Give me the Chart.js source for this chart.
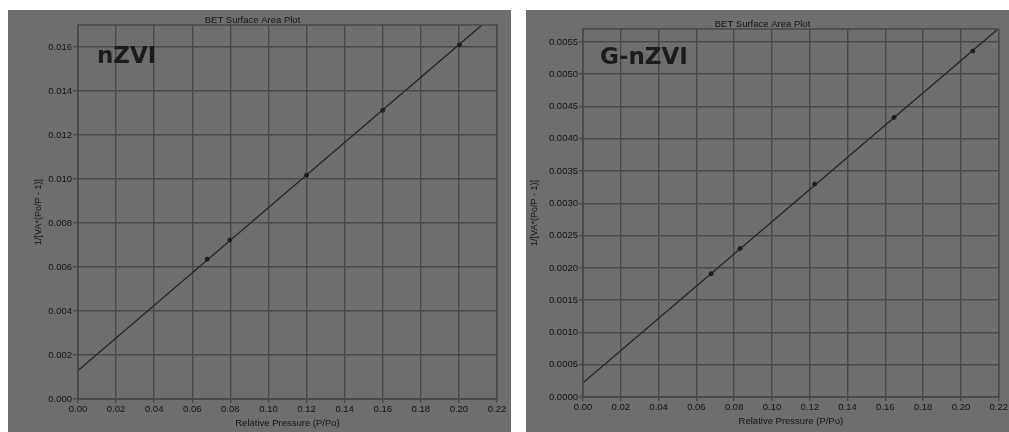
<!DOCTYPE html>
<html>
<head>
<meta charset="utf-8">
<script src="https://cdn.jsdelivr.net/npm/chart.js@4.4.1/dist/chart.umd.min.js"></script>
<style>
  html, body { margin: 0; padding: 0; background: #ffffff; }
  body { width: 1009px; height: 432px; overflow: hidden; position: relative; }
  .panel { position: absolute; background: #6e6e6e; }
  .panel canvas { display: block; filter: blur(0.6px); }
  #panelA { left: 8px; top: 10px; width: 503px; height: 422px; }
  #panelB { left: 526px; top: 10px; width: 483px; height: 422px; }
</style>
</head>
<body>
<div class="panel" id="panelA"><canvas id="chartA" width="503" height="422"></canvas></div>
<div class="panel" id="panelB"><canvas id="chartB" width="483" height="422"></canvas></div>
<script>
// Relative pressure ticks shared by both plots
const xTicks = [0.00, 0.02, 0.04, 0.06, 0.08, 0.10, 0.12, 0.14, 0.16, 0.18, 0.20, 0.22];

// nZVI: measured BET points and fitted line
const pressure_nZVI = [0.0679, 0.0797, 0.1200, 0.1600, 0.2003];
const bet_nZVI      = [0.00636, 0.00723, 0.01017, 0.01312, 0.01610];
const fitX_nZVI     = [0.0000, 0.2121];
const fitY_nZVI     = [0.00129, 0.01700];
const yTicks_nZVI   = [0.000, 0.002, 0.004, 0.006, 0.008, 0.010, 0.012, 0.014, 0.016];

// G-nZVI: measured BET points and fitted line
const pressure_GnZVI = [0.0678, 0.0831, 0.1226, 0.1646, 0.2063];
const bet_GnZVI      = [0.00191, 0.00230, 0.00330, 0.00433, 0.00536];
const fitX_GnZVI     = [0.0000, 0.2196];
const fitY_GnZVI     = [0.00022, 0.00570];
const yTicks_GnZVI   = [0.0000, 0.0005, 0.0010, 0.0015, 0.0020, 0.0025, 0.0030,
                        0.0035, 0.0040, 0.0045, 0.0050, 0.0055];

const FONT = '"Liberation Sans", Arial, sans-serif';
const TEXT = '#141414';
const GRID = '#4a4a4a';

// Frame around the plotting area plus the sample label
const framePlugin = {
  id: 'frame',
  afterDraw(chart, args, opts) {
    const { ctx, chartArea: a } = chart;
    ctx.save();
    ctx.strokeStyle = GRID;
    ctx.lineWidth = 1.5;
    ctx.strokeRect(a.left, a.top, a.right - a.left, a.bottom - a.top);
    ctx.fillStyle = '#1c1c20';
    ctx.font = 'bold 23px "DejaVu Sans", sans-serif';
    ctx.textBaseline = 'middle';
    ctx.textAlign = 'left';
    ctx.fillText(opts.label, a.left + opts.dx, a.top + opts.dy);
    ctx.restore();
  }
};

function makeChart(id, s) {
  const points = s.px.map((x, i) => ({ x, y: s.py[i] }));
  const fit = s.fx.map((x, i) => ({ x, y: s.fy[i] }));
  return new Chart(document.getElementById(id), {
    type: 'scatter',
    data: {
      datasets: [
        { data: fit, showLine: true, borderColor: '#242424', borderWidth: 1.3,
          pointRadius: 0, order: 2 },
        { data: points, showLine: false, backgroundColor: '#1e1e1e',
          borderColor: '#1e1e1e', pointRadius: 2, order: 1 }
      ]
    },
    options: {
      responsive: false,
      animation: false,
      devicePixelRatio: 1,
      layout: { padding: { left: 0, right: s.padRight, top: 0, bottom: 0 } },
      plugins: {
        legend: { display: false },
        tooltip: { enabled: false },
        title: {
          display: true,
          text: 'BET Surface Area Plot',
          color: TEXT,
          font: { family: FONT, size: 9.5, weight: 'normal', lineHeight: 1 },
          padding: { top: s.titleTop, bottom: 0 }
        },
        frame: { label: s.label, dx: s.labelDx, dy: s.labelDy }
      },
      scales: {
        x: {
          type: 'linear',
          min: 0, max: 0.22,
          afterBuildTicks: sc => { sc.ticks = xTicks.map(v => ({ value: v })); },
          afterFit: sc => { sc.height = s.xHeight; },
          ticks: {
            color: TEXT, padding: 1, maxRotation: 0, autoSkip: false,
            font: { family: FONT, size: 9.5 },
            callback: v => Number(v).toFixed(2)
          },
          grid: { color: GRID, lineWidth: 1.4, tickLength: 4, tickColor: GRID },
          border: { color: GRID, width: 1.5 },
          title: {
            display: true, text: 'Relative Pressure (P/Po)', color: TEXT,
            font: { family: FONT, size: 9.5 },
            padding: { top: 0, bottom: s.xTitlePad }
          }
        },
        y: {
          type: 'linear',
          min: 0, max: s.yMax,
          afterBuildTicks: sc => { sc.ticks = s.yTicks.map(v => ({ value: v })); },
          afterFit: sc => { sc.width = s.yWidth; },
          ticks: {
            color: TEXT, padding: 1, autoSkip: false,
            font: { family: FONT, size: 9.5 },
            callback: v => Number(v).toFixed(s.decimals)
          },
          grid: { color: GRID, lineWidth: 1.4, tickLength: s.yTick, tickColor: GRID },
          border: { color: GRID, width: 1.5 },
          title: {
            display: true, text: '1/[VA*(Po/P - 1)]', color: TEXT,
            font: { family: FONT, size: 9 },
            padding: { top: s.yTitlePad, bottom: 0 }
          }
        }
      }
    },
    plugins: [framePlugin]
  });
}

makeChart('chartA', {
  px: pressure_nZVI, py: bet_nZVI, fx: fitX_nZVI, fy: fitY_nZVI,
  yTicks: yTicks_nZVI, yMax: 0.017, decimals: 3,
  padRight: 14, titleTop: 5.5, xHeight: 33, yWidth: 70, yTick: 5,
  xTitlePad: 2.6, yTitlePad: 25.6,
  label: 'nZVI', labelDx: 19, labelDy: 32
});

makeChart('chartB', {
  px: pressure_GnZVI, py: bet_GnZVI, fx: fitX_GnZVI, fy: fitY_GnZVI,
  yTicks: yTicks_GnZVI, yMax: 0.0057, decimals: 4,
  padRight: 10, titleTop: 9.5, xHeight: 35, yWidth: 57, yTick: 4,
  xTitlePad: 4.6, yTitlePad: 3.6,
  label: 'G-nZVI', labelDx: 17, labelDy: 29
});
</script>
</body>
</html>
